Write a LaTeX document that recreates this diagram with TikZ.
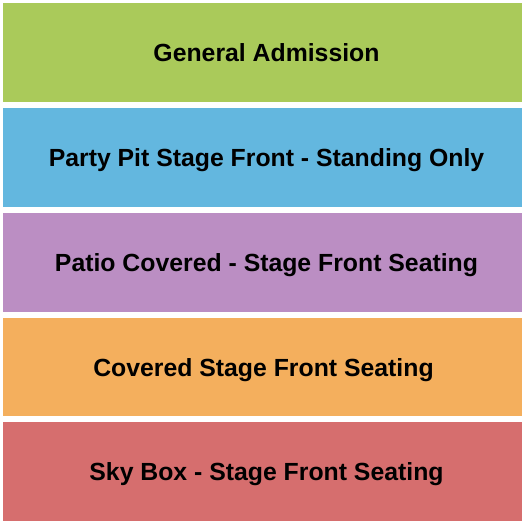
\documentclass[tikz,border=0pt]{standalone}
\usepackage{fontspec}
\setmainfont{Liberation Sans}
\definecolor{cga}{RGB}{170,202,90}
\definecolor{cpp}{RGB}{99,183,223}
\definecolor{cpc}{RGB}{187,142,195}
\definecolor{ccs}{RGB}{244,175,93}
\definecolor{csb}{RGB}{214,110,110}
\begin{document}
\begin{tikzpicture}[x=1pt,y=1pt,
  band/.style={draw=none,minimum width=519pt,minimum height=98.8pt,inner sep=0pt,anchor=north west},
  lbl/.style={anchor=base,inner sep=0pt,font=\fontsize{24.8}{28}\selectfont\bfseries,text=black}]
\useasboundingbox[fill=white] (0,0) rectangle (525,-525);
\node[band,fill=cga] (ga) at (3,-3) {};
\node[band,fill=cpp] (pp) at (3,-107.8) {};
\node[band,fill=cpc] (pc) at (3,-212.6) {};
\node[band,fill=ccs] (cs) at (3,-317.4) {};
\node[band,fill=csb] (sb) at (3,-422.2) {};
\node[lbl] (tga) at (266.5,-61.7) {General Admission};
\node[lbl] (tpp) at (266.5,-166.5) {Party Pit Stage Front - Standing Only};
\node[lbl] (tpc) at (266.5,-271.3) {Patio Covered - Stage Front Seating};
\node[lbl] (tcs) at (263.5,-376.1) {Covered Stage Front Seating};
\node[lbl] (tsb) at (266.5,-480.9) {Sky Box - Stage Front Seating};
\end{tikzpicture}
\end{document}
